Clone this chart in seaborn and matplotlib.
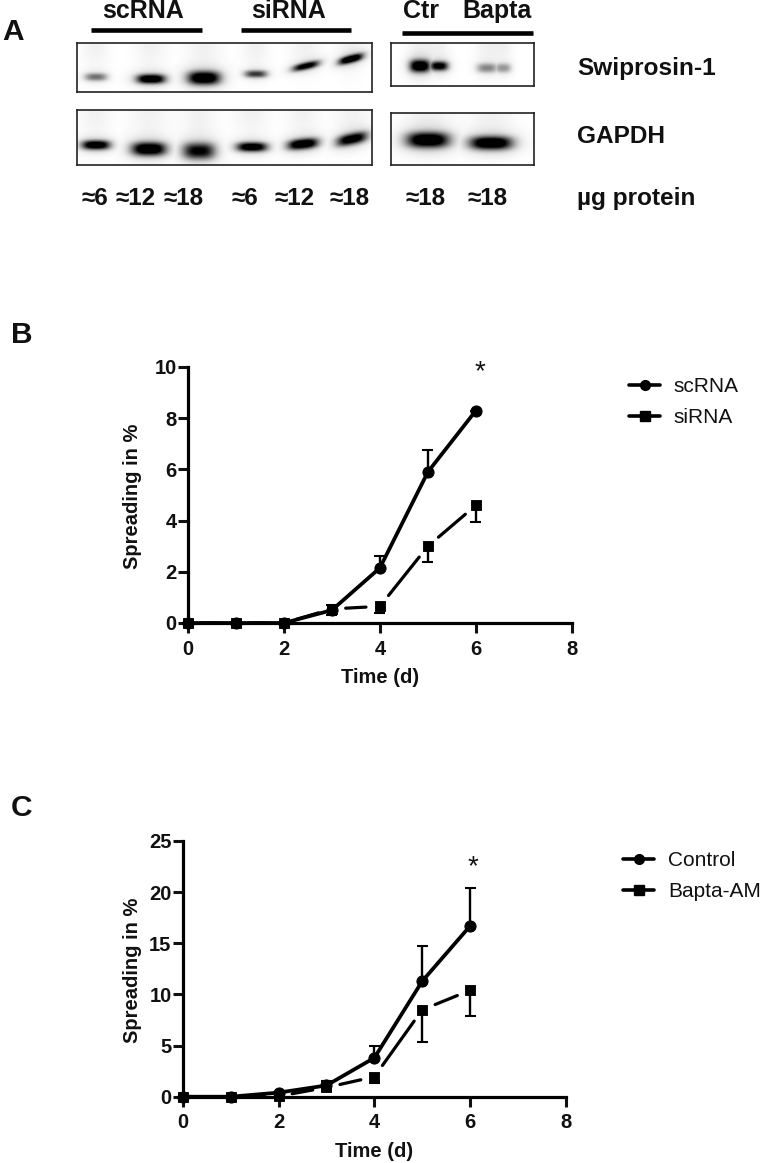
import numpy as np
import pandas as pd
import matplotlib
matplotlib.use("Agg")
import matplotlib.pyplot as plt
import seaborn as sns

W, H = 760, 1163

# --- data ---
days = [0, 1, 2, 3, 4, 5, 6]

b_sc = [0, 0, 0, 0.5, 2.15, 5.9, 8.3]
b_sc_hi = [0, 0, 0, 0.7, 2.6, 6.75, 8.3]
b_si = [0, 0, 0, 0.55, 0.65, 3.0, 4.6]
b_si_lo = [0, 0, 0, 0.3, 0.4, 2.4, 3.95]

c_ctrl = [0, 0, 0.4, 1.1, 3.8, 11.3, 16.7]
c_ctrl_hi = [0, 0, 0.4, 1.5, 4.95, 14.7, 20.4]
c_bap = [0, 0, 0.05, 0.9, 1.95, 8.5, 10.4]
c_bap_lo = [0, 0, 0.05, 0.6, 1.3, 5.35, 7.9]

# blots: centre x, centre y, half width, half height, darkness, tilt (all in image px)
swip_left = [(96, 77, 11, 3.8, 0.42, 0), (151, 79, 14, 4.5, 1.0, 0), (204, 78, 16, 6.5, 1.0, 0),
             (256, 74, 11, 3.5, 0.6, 0), (306, 66, 13, 3.5, 0.85, -0.22), (351, 59, 12, 3.8, 1.0, -0.25)]
gapdh_left = [(96, 145, 14, 4.5, 0.95, 0), (149, 149, 17, 6.5, 1.0, 0), (199, 151, 16, 8, 0.8, 0),
              (252, 147, 15, 4.5, 0.95, 0), (303, 144, 15, 5, 1.0, -0.1), (352, 139, 15, 5.5, 0.9, -0.2)]
swip_right = [(420, 66, 10, 6, 1.0, 0), (439, 66, 9, 4.5, 0.85, 0), (487, 68, 10, 4.5, 0.35, 0), (503, 68, 8, 4.5, 0.3, 0)]
gapdh_right = [(428, 140, 21, 7.5, 1.0, 0), (491, 143, 21, 6.5, 1.0, 0)]

group_labels = [("scRNA", 143), ("siRNA", 289), ("Ctr", 421), ("Bapta", 497)]
group_bars = [(91, 202, 29.5), (241, 351, 29.5), (402, 533, 33)]
amounts = [("≈6", 95), ("≈12", 136), ("≈18", 184), ("≈6", 245), ("≈12", 295), ("≈18", 350), ("≈18", 426), ("≈18", 488)]
row_labels = [("Swiprosin-1", 75), ("GAPDH", 143), ("µg protein", 205)]
blot_boxes = [(77, 43, 372, 92, swip_left), (77, 110, 372, 165, gapdh_left),
              (391, 43, 534, 86, swip_right), (391, 113, 534, 165, gapdh_right)]

sns.set_theme(style="ticks")
plt.rcParams['font.family'] = ['Liberation Sans', 'DejaVu Sans']
plt.rcParams['font.weight'] = 'bold'

fig = plt.figure(figsize=(W / 100, H / 100), dpi=100, facecolor="white")


def px_axes(x0, y0, x1, y1):
    return fig.add_axes([x0 / W, 1 - y1 / H, (x1 - x0) / W, (y1 - y0) / H])


def ftext(x, y, s, **kw):
    fig.text(x / W, 1 - y / H, s, **kw)


# overlay in image pixels for the text and bars of panel A
over = fig.add_axes([0, 0, 1, 1], facecolor="none", zorder=5)
over.set_xlim(0, W)
over.set_ylim(H, 0)
over.axis("off")


def draw_blot(x0, y0, x1, y1, bands):
    ax = px_axes(x0, y0, x1, y1)
    xx, yy = np.meshgrid(np.arange(x0, x1) + 0.5, np.arange(y0, y1) + 0.5)
    img = np.zeros_like(xx)
    for cx, cy, hw, hh, dark, tilt in bands:
        yc = cy + tilt * (xx - cx)
        band = np.exp(-np.abs((xx - cx) / hw) ** 3 - np.abs((yy - yc) / hh) ** 2.4) * dark
        halo = np.exp(-((xx - cx) / (hw * 1.3)) ** 2 - ((yy - yc) / (hh * 1.9)) ** 2) * dark * 0.18
        smear = np.exp(-((xx - cx) / (hw + 2)) ** 2 - ((yy - y0) / 30) ** 2) * 0.05
        img = np.maximum(img, band + halo) + smear
    ax.imshow(1 - np.clip(img * 1.1, 0, 1), cmap="gray", vmin=0, vmax=1, aspect="auto",
              extent=(x0, x1, y1, y0), interpolation="bilinear")
    ax.set_xticks([])
    ax.set_yticks([])
    for s in ax.spines.values():
        s.set_linewidth(1.2)
        s.set_color("#222222")


for box in blot_boxes:
    draw_blot(*box)

for name, x in group_labels:
    ftext(x, 18, name, fontsize=18, ha="center", va="baseline", color="#111111")
for a, b, y in group_bars:
    over.plot([a, b], [y, y], color="black", lw=3.3, solid_capstyle="butt")
for name, x in amounts:
    ftext(x, 205, name, fontsize=17.5, ha="center", va="baseline", color="#111111")
for name, y in row_labels:
    ftext(577, y, name, fontsize=17.6, ha="left", va="baseline", color="#111111")

ftext(13, 40, "A", fontsize=21.5, ha="center", va="baseline", color="#111111")
ftext(22, 343, "B", fontsize=21.5, ha="center", va="baseline", color="#111111")
ftext(22, 816, "C", fontsize=21.5, ha="center", va="baseline", color="#111111")


def draw_panel(box, ymax, yticks, solid, solid_hi, dashed, dashed_lo, star_xy, labels, leg_xy):
    ax = px_axes(*box)
    df = pd.DataFrame({"day": days, "solid": solid, "dashed": dashed})
    capped = np.array(days[3:])

    ax.vlines(days, solid, solid_hi, color="black", lw=1.7, zorder=3, clip_on=False)
    ax.hlines(solid_hi[3:], capped - 0.115, capped + 0.115, color="black", lw=1.5, zorder=3)
    ax.vlines(days, dashed_lo, dashed, color="black", lw=1.7, zorder=3, clip_on=False)
    ax.hlines(dashed_lo[3:], capped - 0.115, capped + 0.115, color="black", lw=1.5, zorder=3)

    # dashes stop short of the markers, one per interval
    for i in range(len(days) - 1):
        ax.annotate("", xy=(days[i + 1], dashed[i + 1]), xytext=(days[i], dashed[i]),
                    arrowprops=dict(arrowstyle="-", color="black", lw=2.3, shrinkA=10, shrinkB=10),
                    annotation_clip=False, zorder=3)

    sns.lineplot(data=df, x="day", y="solid", ax=ax, color="black", lw=2.7, marker="o", markersize=8,
                 markeredgecolor="black", errorbar=None, clip_on=False, zorder=4)
    sns.scatterplot(data=df, x="day", y="dashed", ax=ax, color="black", marker="s", s=62,
                    edgecolor="black", clip_on=False, zorder=4)

    ax.set_xlim(0, 8)
    ax.set_ylim(0, ymax)
    ax.set_xticks([0, 2, 4, 6, 8])
    ax.set_yticks(yticks)
    ax.tick_params(width=2.2, length=7, labelsize=14.5, colors="#111111")
    ax.tick_params(axis="y", pad=1)
    ax.tick_params(axis="x", pad=5)
    sns.despine(ax=ax)
    for s in ("left", "bottom"):
        ax.spines[s].set_linewidth(2.3)
        ax.spines[s].set_color("black")
    ax.set_xlabel("Time (d)", fontsize=14.5, fontweight="bold", labelpad=7, color="#111111")
    ax.set_ylabel("Spreading in %", fontsize=14.5, fontweight="bold", color="#111111")
    ax.yaxis.set_label_coords((142 - box[0]) / (box[2] - box[0]), 0.495)

    over.text(star_xy[0], star_xy[1], "*", fontsize=20, fontweight="normal", ha="center", va="center", color="#111111")

    # legend drawn by hand in image pixels
    lx0, lx1, tx, y1, y2 = leg_xy
    mid = (lx0 + lx1) / 2
    over.plot([lx0, lx1], [y1, y1], color="black", lw=2.6)
    over.plot([mid], [y1], "o", color="black", ms=7)
    over.plot([lx0, lx1], [y2, y2], color="black", lw=2.6)
    over.plot([mid], [y2], "s", color="black", ms=6.5)
    over.text(tx, y1 + 1.5, labels[0], fontsize=15, fontweight="normal", ha="left", va="center", color="#111111")
    over.text(tx, y2 + 1.5, labels[1], fontsize=15, fontweight="normal", ha="left", va="center", color="#111111")
    return ax


draw_panel((187.7, 367, 572, 623), 10, [0, 2, 4, 6, 8, 10], b_sc, b_sc_hi, b_si, b_si_lo,
           (480, 372), ["scRNA", "siRNA"], (629, 660, 673, 385, 416))
draw_panel((182.7, 841, 566, 1096.7), 25, [0, 5, 10, 15, 20, 25], c_ctrl, c_ctrl_hi, c_bap, c_bap_lo,
           (473, 867), ["Control", "Bapta-AM"], (623, 654, 668, 859, 890))

fig.savefig("out.png", dpi=100)
